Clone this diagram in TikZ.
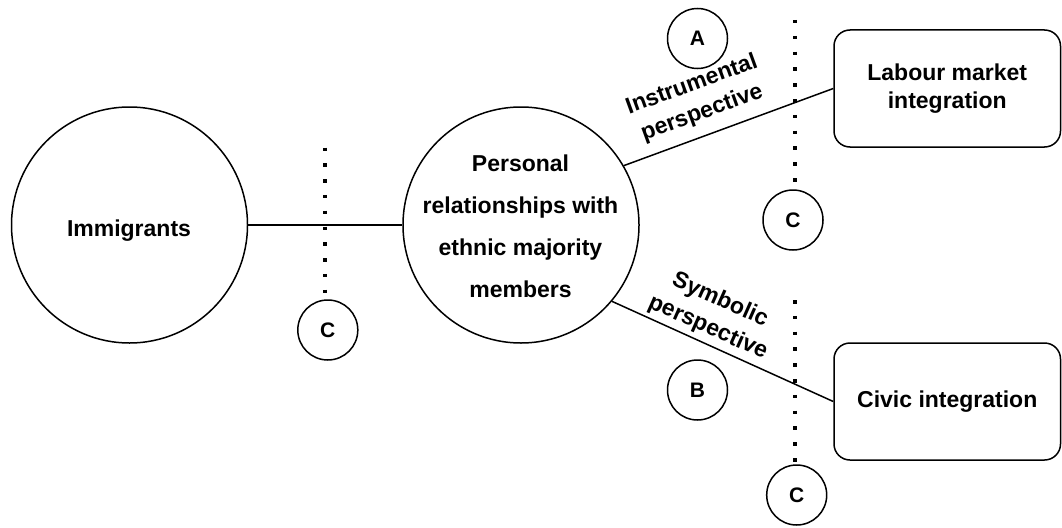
\documentclass[tikz,border=0pt]{standalone}
\usepackage{fontspec}
\setmainfont{Liberation Sans}
\begin{document}
\begin{tikzpicture}[x=1pt,y=-1pt,
  bigcircle/.style={circle, draw, line width=1.5pt, minimum size=236pt, inner sep=0pt},
  marker/.style={circle, draw, line width=1.5pt, minimum size=60pt, inner sep=0pt, font=\bfseries\fontsize{21}{25}\selectfont},
  outcome/.style={draw, rounded corners=16pt, line width=1.5pt, minimum width=226.5pt, minimum height=117pt, align=center, inner sep=0pt, font=\bfseries\fontsize{23}{28.3}\selectfont},
  maintext/.style={align=center, inner sep=0pt, font=\bfseries\fontsize{23}{42.1}\selectfont},
  perspective/.style={align=center, inner sep=0pt, font=\bfseries\fontsize{23}{30}\selectfont},
  connector/.style={line width=1.5pt},
  divider/.style={line width=3.5pt, dash pattern=on 3.5pt off 12.3pt}]
\useasboundingbox (0,0) rectangle (1062,527);

% main shapes
\node[bigcircle] (imm) at (129.5,225) {};
\node[maintext, anchor=base] (immtext) at (129,236.7) {Immigrants};
\node[bigcircle] (mid) at (521,225) {};
\node[maintext] (midtext) at (520.5,226.6) {Personal\\relationships with\\ethnic majority\\members};
\node[outcome] (labour) at (947.25,88.5) {Labour market\\integration};
\node[outcome] (civic) at (947.25,401.5) {Civic integration};

% connectors
\draw[connector] (imm) -- (mid);
\draw[connector] (mid.30.5) -- (labour.west);
\draw[connector] (mid.-40.8) -- (civic.west);

% perspective labels
\node[perspective, rotate=20] (instr) at (697,99) {Instrumental\\perspective};
\node[perspective, rotate=-24] (symb) at (714,314) {Symbolic\\perspective};

% dotted dividers
\coordinate (d1top) at (325,147.5);
\coordinate (d1bot) at (325,293.5);
\coordinate (d2top) at (795,20);
\coordinate (d2bot) at (795,181.5);
\coordinate (d3top) at (795,300);
\coordinate (d3bot) at (795,461.5);
\draw[divider] (d1top) -- (d1bot);
\draw[divider] (d2top) -- (d2bot);
\draw[divider] (d3top) -- (d3bot);

% markers
\node[marker] (a) at (697.5,38.5) {A};
\node[marker] (b) at (697.5,390) {B};
\node[marker] (c1) at (327.8,330) {C};
\node[marker] (c2) at (793,220) {C};
\node[marker] (c3) at (796.7,495) {C};
\end{tikzpicture}
\end{document}
